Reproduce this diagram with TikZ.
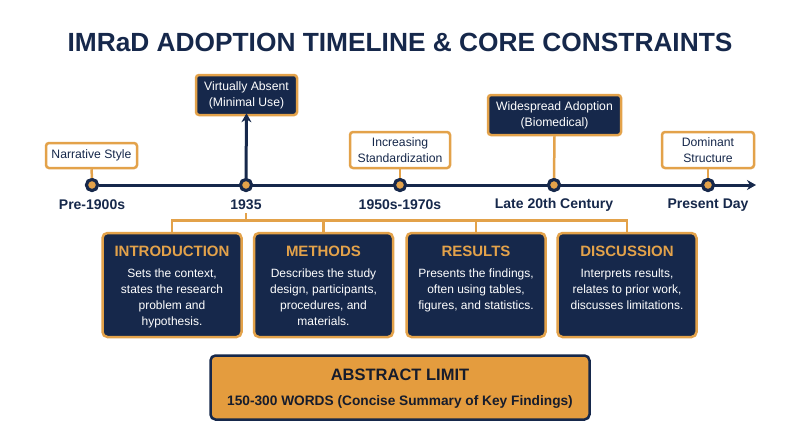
\documentclass[tikz,border=0pt]{standalone}
\usepackage{fontspec}
\setmainfont{Liberation Sans}
\usetikzlibrary{arrows.meta}
\definecolor{navy}{HTML}{16284B}
\definecolor{gold}{HTML}{E3A24A}
\definecolor{goldfill}{HTML}{E49C3E}
\definecolor{darktext}{HTML}{161C2C}
\tikzset{
  whitebox/.style={draw=gold, line width=2.5pt, fill=white, rounded corners=3pt, text=navy, align=center, inner sep=0pt, font=\fontsize{12.2}{16}\selectfont},
  navybox/.style={draw=gold, line width=2.5pt, fill=navy, rounded corners=3pt, text=white, align=center, inner sep=0pt, font=\fontsize{12.2}{16}\selectfont},
  dot/.style={circle, draw=navy, fill=gold, line width=3pt, minimum size=11pt, inner sep=0pt},
  year/.style={text=navy, font=\bfseries\fontsize{14}{16}\selectfont, inner sep=0pt},
  secbox/.style={draw=gold, line width=2.5pt, fill=navy, rounded corners=5pt, minimum width=139pt, minimum height=104pt, inner sep=0pt},
  sectitle/.style={text=gold, font=\bfseries\fontsize{15}{18}\selectfont, inner sep=0pt},
  secbody/.style={text=white, align=center, font=\fontsize{12}{16}\selectfont, inner sep=0pt, anchor=north},
  goldline/.style={draw=gold, line width=2.5pt},
}
\begin{document}
\begin{tikzpicture}[x=1pt,y=-1pt]
\useasboundingbox (0,0) rectangle (800,447);
\fill[white] (0,0) rectangle (800,447);
\node[text=navy, font=\bfseries\fontsize{26.3}{30}\selectfont] (title) at (400,42) {IMRaD ADOPTION TIMELINE \& CORE CONSTRAINTS};

% timeline
\coordinate (tend) at (756,185);
\node[dot] (d1) at (92,185) {};
\node[dot] (d2) at (246,185) {};
\node[dot] (d3) at (400,185) {};
\node[dot] (d4) at (554,185) {};
\node[dot] (d5) at (708,185) {};
\draw[navy, line width=3pt, -{Stealth[length=9pt,width=10pt]}] (d1.east) -- (tend);
\foreach \d in {d1,d2,d3,d4,d5}{\node[dot] at (\d) {};}

% top boxes
\node[whitebox, minimum width=91pt, minimum height=25pt] (n1) at (91.5,155.5) {Narrative Style};
\node[navybox, minimum width=101pt, minimum height=40pt] (n2) at (246.5,95) {Virtually Absent\\(Minimal Use)};
\node[whitebox, minimum width=100pt, minimum height=36pt] (n3) at (400,150) {Increasing\\Standardization};
\node[navybox, minimum width=133pt, minimum height=40pt] (n4) at (554.5,115) {Widespread Adoption\\(Biomedical)};
\node[whitebox, minimum width=92pt, minimum height=36pt] (n5) at (708,150) {Dominant\\Structure};

\draw[goldline] (n1.south) -- (d1.north);
\draw[goldline] (n3.south) -- (d3.north);
\draw[goldline] (n4.south) -- (d4.north);
\draw[goldline] (n5.south) -- (d5.north);
\draw[navy, line width=3pt, -{Stealth[length=9pt,width=10pt]}] (d2.north) -- ([yshift=3pt]n2.south);

% year labels
\node[year] (y1) at (92,205) {Pre-1900s};
\node[year] (y2) at (246,205) {1935};
\node[year] (y3) at (400,205) {1950s-1970s};
\node[year] (y4) at (554,205) {Late 20th Century};
\node[year] (y5) at (708,205) {Present Day};

% section boxes
\node[secbox] (s1) at (172,285) {};
\node[secbox] (s2) at (323.5,285) {};
\node[secbox] (s3) at (476,285) {};
\node[secbox] (s4) at (627,285) {};

\coordinate (bk) at (246,220.5);
\draw[goldline] (s1.north) |- (bk) -| (s4.north);
\draw[goldline] (s2.north) -- (s2.north |- bk);
\draw[goldline] (s3.north) -- (s3.north |- bk);
\draw[goldline] ([yshift=-3pt]y2.south) -- (bk);

\node[sectitle] (t1) at (172,251) {INTRODUCTION};
\node[sectitle] (t2) at (323.5,251) {METHODS};
\node[sectitle] (t3) at (476,251) {RESULTS};
\node[sectitle] (t4) at (627,251) {DISCUSSION};

\node[secbody] (b1) at (172,268.5) {Sets the context,\\states the research\\problem and\\hypothesis.};
\node[secbody] (b2) at (323.5,268.5) {Describes the study\\design, participants,\\procedures, and\\materials.};
\node[secbody] (b3) at (476,268.5) {Presents the findings,\\often using tables,\\figures, and statistics.};
\node[secbody] (b4) at (627,268.5) {Interprets results,\\relates to prior work,\\discusses limitations.};

% abstract
\node[draw=navy, fill=goldfill, line width=2.5pt, rounded corners=5pt, minimum width=379pt, minimum height=64pt] (ab) at (400,387.5) {};
\node[text=darktext, font=\bfseries\fontsize{16.5}{19}\selectfont, inner sep=0pt] (abt) at (400,375) {ABSTRACT LIMIT};
\node[text=darktext, font=\bfseries\fontsize{13.7}{16}\selectfont, inner sep=0pt] (abs) at (400,401.5) {150-300 WORDS (Concise Summary of Key Findings)};
\end{tikzpicture}
\end{document}
